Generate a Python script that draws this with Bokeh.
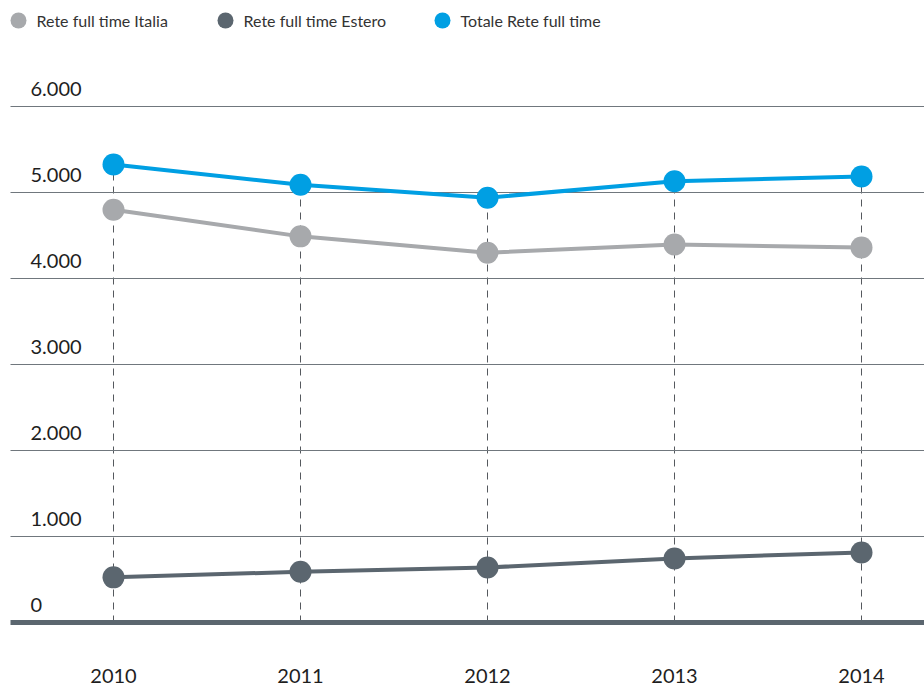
from bokeh.plotting import figure
from bokeh.models import Range1d
from bokeh.core.properties import value
from bokeh.embed import file_html
from bokeh.resources import INLINE

# ---- data ----
years = [2010, 2011, 2012, 2013, 2014]
year_labels = ["2010", "2011", "2012", "2013", "2014"]
italia = [4800, 4490, 4300, 4395, 4360]
estero = [525, 590, 640, 745, 815]
totale = [5325, 5090, 4940, 5130, 5185]
y_ticks = [0, 1000, 2000, 3000, 4000, 5000, 6000]
y_tick_labels = ["0", "1.000", "2.000", "3.000", "4.000", "5.000", "6.000"]
series_names = ["Rete full time Italia", "Rete full time Estero", "Totale Rete full time"]

# ---- style ----
C_ITALIA = "#a7a9ac"
C_ESTERO = "#5b666f"
C_TOTALE = "#009fe3"
C_GRID = "#70777d"
C_TEXT = "#1e1e1e"
FONT = "Lato"

W, H = 924, 685
PX_PER_YEAR = 187.0
PX_PER_UNIT = 86.0 / 1000.0
X0_PX, Y0_PX = 113.0, 622.0


def xd(px):
    return years[0] + (px - X0_PX) / PX_PER_YEAR


def yd(py):
    return (Y0_PX - py) / PX_PER_UNIT


p = figure(width=W, height=H, output_backend="svg", toolbar_location=None,
           x_range=Range1d(xd(0), xd(W)), y_range=Range1d(yd(H), yd(0)),
           min_border=0, min_border_left=0, min_border_right=0,
           min_border_top=0, min_border_bottom=0)
p.axis.visible = False
p.grid.visible = False
p.outline_line_color = None
p.background_fill_color = "white"
p.border_fill_color = "white"

# vertical dashed guides
p.segment(x0=years, y0=[0] * len(years), x1=years, y1=totale,
          line_color="#55595e", line_width=1, line_dash="7 6")

# gridlines
grid_ticks = [t for t in y_ticks if t != 0]
p.segment(x0=[xd(10)] * len(grid_ticks), y0=grid_ticks,
          x1=[xd(W)] * len(grid_ticks), y1=grid_ticks,
          line_color=C_GRID, line_width=1)
# zero line
p.segment(x0=[xd(10)], y0=[0], x1=[xd(W)], y1=[0],
          line_color=C_ESTERO, line_width=5)

# y tick labels
p.text(x=[xd(30)] * len(y_ticks), y=y_ticks, text=y_tick_labels,
       text_font=value(FONT), text_font_size="20px", text_color=C_TEXT,
       text_align="left", text_baseline="alphabetic", y_offset=-18)

# x labels
p.text(x=years, y=[0] * len(years), text=year_labels,
       text_font=value(FONT), text_font_size="20px", text_color=C_TEXT,
       text_align="center", text_baseline="alphabetic", y_offset=53)

# series
for vals, col in [(italia, C_ITALIA), (estero, C_ESTERO), (totale, C_TOTALE)]:
    p.line(years, vals, line_color=col, line_width=4)
    p.scatter(years, vals, size=22, fill_color=col, line_color=None)

# legend
leg_cols = [C_ITALIA, C_ESTERO, C_TOTALE]
leg_px = [18, 225, 442]
p.scatter(x=[xd(px) for px in leg_px], y=[yd(20)] * 3, size=16,
          fill_color=leg_cols, line_color=None)
p.text(x=[xd(px + 18) for px in leg_px], y=[yd(20)] * 3, text=series_names,
       text_font=value(FONT), text_font_size="16px", text_color="#333333",
       text_align="left", text_baseline="middle")

open("out.html", "w").write(file_html(p, INLINE))
